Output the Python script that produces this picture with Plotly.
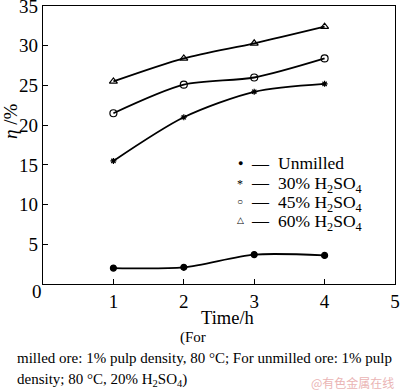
import plotly.graph_objects as go

time_h = [1, 2, 3, 4]
unmilled = [2.0, 2.1, 3.7, 3.6]
h2so4_30 = [15.5, 21.0, 24.2, 25.2]
h2so4_45 = [21.5, 25.1, 26.0, 28.4]
h2so4_60 = [25.5, 28.4, 30.3, 32.4]

x_ticks = [1, 2, 3, 4, 5]
y_ticks = [0, 5, 10, 15, 20, 25, 30, 35]
y_ticktext = ["", "5", "10", "15", "20", "25", "30", "35"]

series = [
    ("Unmilled", unmilled, "circle", 6, "●"),
    ("30% H<sub>2</sub>SO<sub>4</sub>", h2so4_30, "asterisk-open", 5, "*"),
    ("45% H<sub>2</sub>SO<sub>4</sub>", h2so4_45, "circle-open", 7, "○"),
    ("60% H<sub>2</sub>SO<sub>4</sub>", h2so4_60, "triangle-up-open", 7, "△"),
]

FONT = "Liberation Serif, Times New Roman, serif"
fig = go.Figure()
for name, ys, sym, sz, glyph in series:
    fig.add_trace(go.Scatter(
        x=time_h, y=ys, mode="lines+markers", name=name,
        line=dict(color="black", width=1.8, shape="spline", smoothing=0.8),
        marker=dict(symbol=sym, size=sz, color="black",
                    line=dict(color="black", width=1.2)),
        showlegend=False, cliponaxis=False,
    ))

L, R, T, B = 43, 5, 6, 106
W, H = 400, 390
pw, ph = W - L - R, H - T - B

def px(x):
    return (x - L) / pw

def py(y):
    return (H - B - y) / ph

def text_ann(x, y, text, size, xanchor="center", color="black", family=FONT, angle=0):
    return dict(x=px(x), y=py(y), xref="paper", yref="paper", text=text,
                showarrow=False, xanchor=xanchor, yanchor="middle", textangle=angle,
                font=dict(family=family, size=size, color=color))

ann = []
glyph_sizes = {"●": 9, "*": 12, "○": 10, "△": 9}
for i, (name, ys, sym, sz, glyph) in enumerate(series):
    yy = 163 + i * 19
    ann.append(text_ann(240, yy + (2 if glyph == "*" else 0), glyph, glyph_sizes[glyph]))
    ann.append(text_ann(260, yy, "—", 17))
    ann.append(text_ann(276, yy + (2 if i > 0 else 0), name, 17.5, xanchor="left"))

ann.append(text_ann(37, 291, "0", 19))
ann.append(text_ann(228, 318, "Time/h", 18.5))
ann.append(text_ann(11, 122, "<i>η</i> /%", 19, angle=-90))
ann.append(text_ann(193, 337, "(For", 15))
ann.append(text_ann(15, 358, "milled ore: 1% pulp density, 80 °C; For unmilled ore: 1% pulp", 15, xanchor="left"))
ann.append(text_ann(15, 380, "density; 80 °C, 20% H<sub>2</sub>SO<sub>4</sub>)", 15, xanchor="left"))
ann.append(text_ann(396, 382, "@有色金属在线", 12, xanchor="right", color="#eab4b4",
                    family="Noto Sans CJK SC"))

fig.update_layout(
    width=W, height=H,
    margin=dict(l=L, r=R, t=T, b=B),
    plot_bgcolor="white", paper_bgcolor="white",
    font=dict(family=FONT, size=19, color="black"),
    annotations=ann,
    xaxis=dict(range=[0, 5], tickvals=x_ticks, ticks="inside", ticklen=5,
               tickwidth=1, tickcolor="black", showline=True, linecolor="black",
               linewidth=1.2, mirror=True, showgrid=False, zeroline=False,
               automargin=False, ticklabeloverflow="allow",
               tickfont=dict(family=FONT, size=19)),
    yaxis=dict(range=[0, 35], tickvals=y_ticks, ticktext=y_ticktext, ticks="inside",
               ticklen=5, tickwidth=1, tickcolor="black", showline=True, linecolor="black",
               linewidth=1.2, mirror=True, showgrid=False, zeroline=False,
               automargin=False, ticklabeloverflow="allow",
               tickfont=dict(family=FONT, size=19)),
)

fig.write_html("out.html", config={"displayModeBar": False},
               post_script="document.body.style.margin='0';document.body.style.overflow='hidden';")
